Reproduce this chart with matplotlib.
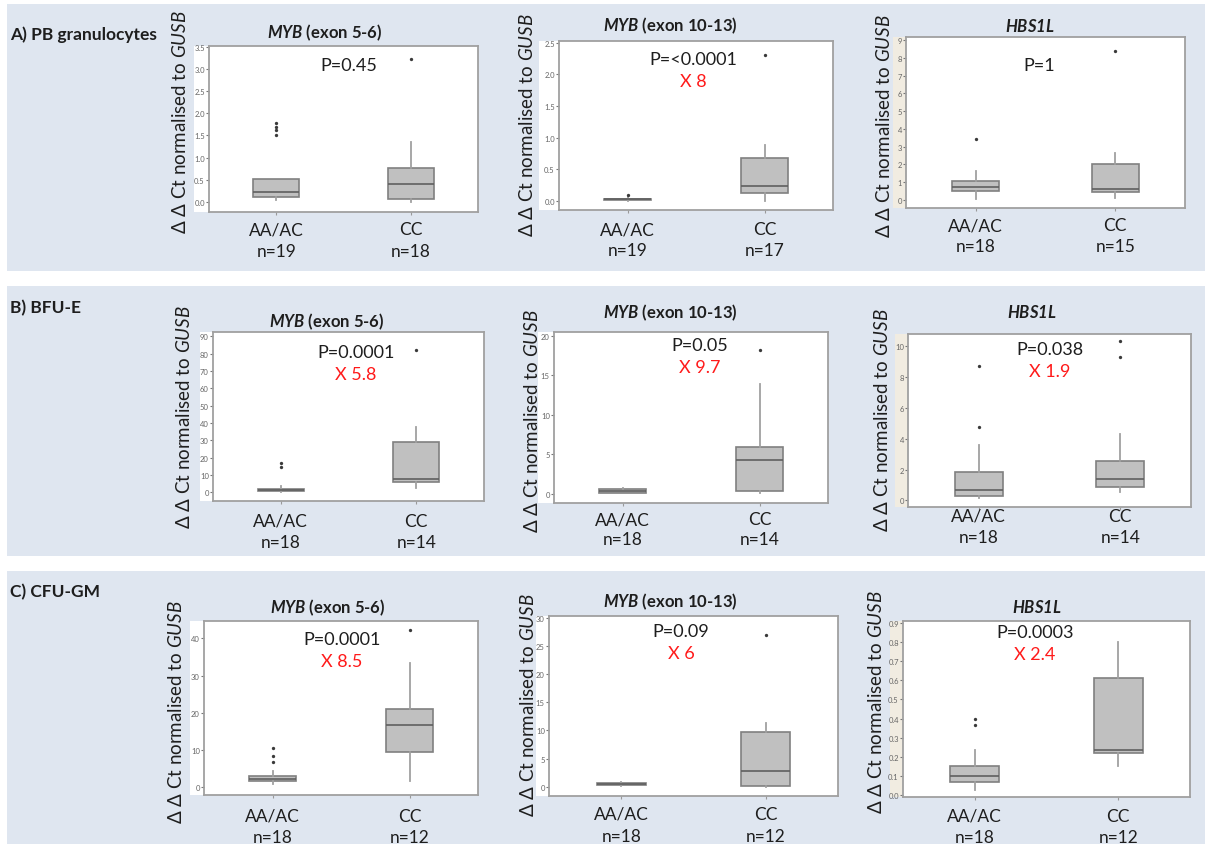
import matplotlib
matplotlib.use("Agg")
import matplotlib.pyplot as plt
from matplotlib.patches import Rectangle
from matplotlib import transforms

plt.rcParams["font.family"] = ["Lato", "DejaVu Sans"]
plt.rcParams["mathtext.fontset"] = "custom"
plt.rcParams["mathtext.rm"] = "Lato"
plt.rcParams["mathtext.it"] = "Lato:italic"
plt.rcParams["mathtext.bf"] = "Lato:bold"
plt.rcParams["mathtext.bfit"] = "Lato:italic:bold"

groups = ["AA/AC", "CC"]
genes = [r"$\mathbfit{MYB}$ (exon 5-6)", r"$\mathbfit{MYB}$ (exon 10-13)", r"$\mathbfit{HBS1L}$"]
rows = ["A) PB granulocytes", "B) BFU-E", "C) CFU-GM"]

# summaries per genotype: whisker low, q1, median, q3, whisker high
pb_myb56_aa = [0.05, 0.10, 0.22, 0.52, 0.52]
pb_myb56_cc = [0.0, 0.06, 0.40, 0.76, 1.36]
pb_myb56_out = [[1.52, 1.63, 1.70, 1.78], [3.22]]
pb_myb1013_aa = [0.0, 0.02, 0.03, 0.04, 0.06]
pb_myb1013_cc = [0.0, 0.13, 0.24, 0.68, 0.88]
pb_myb1013_out = [[0.10], [2.31]]
pb_hbs1l_aa = [0.06, 0.49, 0.72, 1.03, 1.62]
pb_hbs1l_cc = [0.11, 0.43, 0.58, 2.0, 2.64]
pb_hbs1l_out = [[3.41], [8.4]]

bfu_myb56_aa = [0.2, 0.6, 1.3, 2.3, 3.5]
bfu_myb56_cc = [2.5, 6.2, 7.7, 28.9, 37.6]
bfu_myb56_out = [[14.8, 17.0], [82.3]]
bfu_myb1013_aa = [0.1, 0.17, 0.4, 0.63, 0.76]
bfu_myb1013_cc = [0.13, 0.42, 4.25, 5.93, 13.9]
bfu_myb1013_out = [[], [18.2]]
bfu_hbs1l_aa = [0.15, 0.28, 0.65, 1.86, 3.57]
bfu_hbs1l_cc = [0.54, 0.87, 1.36, 2.56, 4.29]
bfu_hbs1l_out = [[4.77, 8.73], [9.33, 10.35]]

cfu_myb56_aa = [0.9, 1.6, 2.2, 2.96, 4.3]
cfu_myb56_cc = [1.8, 9.4, 16.6, 20.9, 33.4]
cfu_myb56_out = [[6.8, 8.4, 10.5], [42.2]]
cfu_myb1013_aa = [0.1, 0.23, 0.45, 0.71, 0.8]
cfu_myb1013_cc = [0.0, 0.12, 2.85, 9.8, 11.4]
cfu_myb1013_out = [[], [27.0]]
cfu_hbs1l_aa = [0.03, 0.069, 0.104, 0.156, 0.237]
cfu_hbs1l_cc = [0.153, 0.22, 0.237, 0.61, 0.80]
cfu_hbs1l_out = [[0.367, 0.40], []]

n_pb = [[19, 18], [19, 17], [18, 15]]
n_bfu = [[18, 14], [18, 14], [18, 14]]
n_cfu = [[18, 12], [18, 12], [18, 12]]

p_pb = ["P=0.45", "P=<0.0001", "P=1"]
p_bfu = ["P=0.0001", "P=0.05", "P=0.038"]
p_cfu = ["P=0.0001", "P=0.09", "P=0.0003"]
fold_pb = ["", "X 8", ""]
fold_bfu = ["X 5.8", "X 9.7", "X 1.9"]
fold_cfu = ["X 8.5", "X 6", "X 2.4"]

# y axis ranges and tick steps
ylims = [[(-0.23, 3.52), (-0.14, 2.525), (-0.47, 9.19)],
         [(-4.9, 92.5), (-1.14, 20.5), (-0.43, 10.8)],
         [(-2.1, 44.7), (-1.68, 30.4), (-0.008, 0.909)]]
yticks = [[(0, 3.5, 0.5), (0, 2.5, 0.5), (0, 9, 1)],
          [(0, 90, 10), (0, 20, 5), (0, 10, 2)],
          [(0, 40, 10), (0, 30, 5), (0, 0.9, 0.1)]]

W, H = 1205, 845
fig = plt.figure(figsize=(W / 100, H / 100), dpi=100)
fig.patch.set_facecolor("white")


def fx(px):
    return px / W


def fy(py):
    return 1 - py / H


def rect(l, t, r, b, color, z):
    fig.add_artist(Rectangle((fx(l), fy(b)), (r - l) / W, (b - t) / H,
                             transform=fig.transFigure, facecolor=color,
                             edgecolor="none", zorder=z))


band = "#dfe6f0"
for t, b in [(5, 272), (287, 557), (572, 845)]:
    rect(7, t, 1205, b, band, -3)

# axes boxes in pixels: left, top, right, bottom, tick strip left
boxes = [[(209, 47, 478, 213, 194), (559, 42, 833, 211, 539), (906, 38, 1185, 209, 893)],
         [(213, 333, 484, 502, 200), (554, 333, 828, 504, 538), (908, 335, 1191, 508, 895)],
         [(204, 622, 478, 796, 190), (549, 617, 838, 797, 536), (903, 622, 1190, 798, 890)]]
strip_col = [["white", "white", "#f1ece1"]] * 3

titles_xy = [[(325, 33), (670, 26), (1030, 27)],
             [(327, 322), (670, 313), (1032, 313)],
             [(328, 608), (670, 602), (1037, 608)]]
ylab_xy = [[(180, 122), (527, 125), (884, 126)],
           [(184, 417), (532, 421), (882, 420)],
           [(176, 712), (528, 705), (876, 702)]]
xlab_y = [[(230, 252), (230, 251), (226, 247)],
          [(522, 543), (520, 540), (517, 538)],
          [(817, 838), (815, 837), (817, 838)]]
p_xy = [[(349, 66), (693, 60), (1039, 66)],
        [(356, 353), (700, 346), (1050, 350)],
        [(342, 640), (681, 632), (1035, 633)]]
fold_dy = 22
row_label_y = [35, 308, 592]

summaries = [
    [(pb_myb56_aa, pb_myb56_cc, pb_myb56_out),
     (pb_myb1013_aa, pb_myb1013_cc, pb_myb1013_out),
     (pb_hbs1l_aa, pb_hbs1l_cc, pb_hbs1l_out)],
    [(bfu_myb56_aa, bfu_myb56_cc, bfu_myb56_out),
     (bfu_myb1013_aa, bfu_myb1013_cc, bfu_myb1013_out),
     (bfu_hbs1l_aa, bfu_hbs1l_cc, bfu_hbs1l_out)],
    [(cfu_myb56_aa, cfu_myb56_cc, cfu_myb56_out),
     (cfu_myb1013_aa, cfu_myb1013_cc, cfu_myb1013_out),
     (cfu_hbs1l_aa, cfu_hbs1l_cc, cfu_hbs1l_out)],
]
n_all = [n_pb, n_bfu, n_cfu]
p_all = [p_pb, p_bfu, p_cfu]
fold_all = [fold_pb, fold_bfu, fold_cfu]

txt = "#1e1e1e"
grey = "#a0a0a0"

for i in range(3):
    fig.text(fx(10), fy(row_label_y[i]), rows[i], fontsize=12.5, fontweight="bold",
             color=txt, ha="left", va="center")
    for j in range(3):
        l, t, r, b, sl = boxes[i][j]
        rect(sl, t, l, b, strip_col[i][j], -1)
        ax = fig.add_axes([fx(l), fy(b), (r - l) / W, (b - t) / H])
        ax.set_facecolor("white")

        aa, cc, out = summaries[i][j]
        stats = []
        for s, o in zip([aa, cc], out):
            stats.append(dict(whislo=s[0], q1=s[1], med=s[2], q3=s[3],
                              whishi=s[4], fliers=o))
        ax.bxp(stats, positions=[1, 2], widths=0.34, showcaps=False,
               patch_artist=True,
               boxprops=dict(facecolor="#c0c0c0", edgecolor="#808080", linewidth=1.2),
               medianprops=dict(color="#5f5f5f", linewidth=1.2),
               whiskerprops=dict(color="#a0a0a0", linewidth=1.3),
               flierprops=dict(marker="o", markersize=2.4, markerfacecolor="#3a3a3a",
                               markeredgecolor="none"))

        ax.set_xlim(0.5, 2.5)
        ax.set_ylim(*ylims[i][j])
        lo, hi, step = yticks[i][j]
        k = int(round((hi - lo) / step))
        ticks = [lo + step * m for m in range(k + 1)]
        ax.set_yticks(ticks)
        if step < 1:
            ax.set_yticklabels(["%.1f" % v for v in ticks])
        else:
            ax.set_yticklabels(["%d" % v for v in ticks])
        ax.set_xticks([1, 2])
        ax.set_xticklabels([])
        ax.tick_params(axis="y", labelsize=5.5, colors="#777777", length=2, pad=1,
                       labelcolor="#666666")
        ax.tick_params(axis="x", length=2, colors="#999999")
        for sp in ax.spines.values():
            sp.set_color(grey)
            sp.set_linewidth(1.3)

        blend = transforms.blended_transform_factory(ax.transData, fig.transFigure)
        for g in range(2):
            ax.text(g + 1, fy(xlab_y[i][j][0]), groups[g], transform=blend,
                    ha="center", va="center", fontsize=12.5, color=txt)
            ax.text(g + 1, fy(xlab_y[i][j][1]), "n=%d" % n_all[i][j][g], transform=blend,
                    ha="center", va="center", fontsize=12.5, color=txt)

        tx, ty = titles_xy[i][j]
        fig.text(fx(tx), fy(ty), genes[j], fontsize=12, fontweight="bold",
                 color=txt, ha="center", va="center")
        yx, yy = ylab_xy[i][j]
        fig.text(fx(yx), fy(yy), r"Δ Δ Ct normalised to $\mathit{GUSB}$",
                 rotation=90, fontsize=13.5, color=txt, ha="center", va="center")
        px, py = p_xy[i][j]
        fig.text(fx(px), fy(py), p_all[i][j], fontsize=13, color=txt,
                 ha="center", va="center")
        if fold_all[i][j]:
            fig.text(fx(px), fy(py + fold_dy), fold_all[i][j], fontsize=13,
                     color="#ff1a1a", ha="center", va="center")

fig.savefig("out.png", dpi=100)
